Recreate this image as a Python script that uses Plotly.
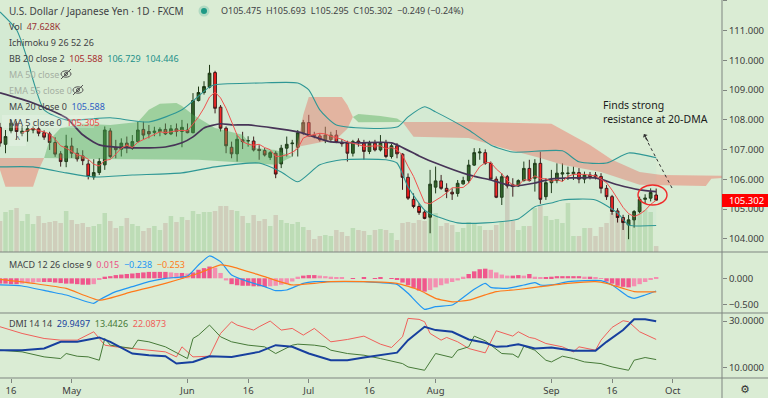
import plotly.graph_objects as go

# ---------------- data ----------------
# trading-day index: 0 = 15 Apr 2020 ... 118 = 28 Sep 2020
bar_index = list(range(-1, 119))

open_ = [107.75, 107.18, 107.64, 107.87, 107.55, 107.62, 107.66, 107.70, 107.57, 107.53,
         107.24, 106.86, 106.60, 107.12, 106.88, 106.79, 106.52, 106.08, 106.23, 106.49,
         107.63, 107.08, 107.01, 107.22, 107.05, 107.27, 107.68, 107.61, 107.58, 107.61,
         107.68, 107.53, 107.70, 107.61, 107.66, 107.57, 108.65, 108.92, 109.10, 109.59,
         108.43, 107.72, 107.08, 106.86, 107.33, 107.29, 107.29, 107.01, 106.97, 106.74,
         106.88, 106.52, 107.05, 107.20, 107.08, 107.57, 107.91, 107.49, 107.46, 107.33,
         107.34, 107.49, 107.24, 107.22, 106.88, 107.29, 107.22, 106.94, 107.22, 106.99,
         107.24, 106.77, 107.13, 106.85, 106.07, 105.33, 105.09, 104.90, 104.73, 105.74,
         105.95, 105.70, 105.57, 105.53, 105.85, 105.96, 106.48, 106.89, 106.90, 106.54,
         106.01, 105.40, 106.09, 105.82, 105.78, 105.96, 106.37, 106.04, 106.54, 105.42,
         105.89, 105.96, 106.18, 106.20, 106.19, 106.23, 106.01, 106.15, 106.15, 106.10,
         105.70, 105.42, 104.94, 104.72, 104.47, 104.64, 104.92, 105.33, 105.37, 105.475]
high = [107.90, 107.66, 108.00, 107.95, 107.80, 107.80, 107.78, 107.78, 107.65, 107.60,
        107.42, 106.95, 107.50, 107.40, 107.05, 106.98, 106.66, 106.68, 106.72, 107.78,
        107.72, 107.33, 107.38, 107.44, 107.49, 107.94, 107.94, 107.83, 107.77, 107.75,
        107.88, 107.83, 107.88, 108.00, 107.88, 108.90, 109.12, 109.30, 109.85, 109.65,
        108.50, 107.78, 107.27, 107.50, 107.60, 107.45, 107.44, 107.15, 107.05, 106.95,
        106.95, 107.16, 107.44, 107.33, 107.66, 108.00, 108.17, 107.60, 107.55, 107.77,
        107.60, 107.66, 107.35, 107.30, 107.33, 107.38, 107.33, 107.30, 107.33, 107.49,
        107.33, 107.20, 107.22, 106.88, 106.20, 105.53, 105.20, 104.98, 106.32, 106.43,
        106.15, 105.87, 105.70, 105.98, 106.09, 106.66, 107.05, 107.05, 107.01, 106.60,
        106.10, 106.21, 106.15, 106.04, 106.00, 106.60, 106.66, 106.68, 106.93, 106.04,
        106.32, 106.54, 106.54, 106.43, 106.43, 106.38, 106.26, 106.25, 106.25, 106.21,
        105.81, 105.48, 105.03, 104.81, 104.81, 104.97, 105.42, 105.50, 105.70, 105.693]
low = [107.10, 106.88, 107.55, 107.33, 107.45, 107.27, 107.55, 107.45, 107.33, 106.99,
       106.76, 106.43, 106.41, 106.72, 106.60, 106.48, 106.00, 105.99, 106.15, 106.32,
       106.71, 106.71, 106.77, 106.88, 106.99, 107.24, 107.33, 107.38, 107.45, 107.45,
       107.49, 107.49, 107.44, 107.08, 107.55, 107.55, 108.62, 108.85, 109.06, 108.22,
       107.61, 106.88, 106.71, 106.60, 107.02, 107.10, 106.94, 106.66, 106.77, 106.65,
       106.04, 106.38, 106.77, 106.77, 106.77, 107.49, 107.44, 107.38, 107.27, 107.22,
       107.25, 107.22, 107.10, 106.60, 106.77, 107.10, 106.66, 106.85, 106.94, 106.94,
       106.71, 106.70, 106.71, 105.65, 105.31, 105.03, 104.81, 104.66, 104.19, 105.53,
       105.65, 105.37, 105.31, 105.42, 105.82, 105.87, 106.45, 106.66, 106.49, 105.98,
       105.37, 105.14, 105.70, 105.42, 105.75, 105.93, 105.93, 105.59, 105.18, 105.31,
       105.54, 105.87, 105.93, 105.98, 105.98, 105.87, 105.87, 106.00, 106.00, 105.53,
       105.31, 104.81, 104.55, 104.30, 103.99, 104.38, 104.86, 105.20, 105.26, 105.295]
close = [107.22, 107.44, 107.89, 107.61, 107.62, 107.70, 107.71, 107.55, 107.42, 107.24,
         106.85, 106.60, 107.12, 106.88, 106.69, 106.63, 106.10, 106.23, 106.60, 107.66,
         106.77, 107.00, 107.22, 107.08, 107.27, 107.66, 107.49, 107.53, 107.62, 107.68,
         107.53, 107.70, 107.61, 107.75, 107.57, 108.65, 108.92, 109.12, 109.57, 108.39,
         107.72, 107.13, 106.86, 107.35, 107.27, 107.30, 106.99, 106.97, 106.82, 106.90,
         106.18, 107.05, 107.18, 107.22, 107.57, 107.91, 107.46, 107.46, 107.33, 107.49,
         107.49, 107.24, 107.20, 106.88, 107.27, 107.24, 106.94, 107.22, 106.99, 107.24,
         106.77, 107.13, 106.86, 106.07, 105.37, 105.09, 104.89, 104.69, 105.84, 105.95,
         105.70, 105.59, 105.51, 105.87, 105.96, 106.48, 106.90, 106.92, 106.54, 106.01,
         105.40, 106.09, 105.78, 105.76, 105.96, 106.37, 105.96, 106.54, 105.33, 105.89,
         105.98, 106.21, 106.22, 106.21, 106.24, 106.01, 106.15, 106.09, 106.09, 105.70,
         105.42, 104.92, 104.72, 104.55, 104.64, 104.92, 105.33, 105.37, 105.56, 105.302]
volume_k = [248, 320, 336, 352, 248, 304, 224, 288, 232, 240,
            248, 232, 328, 256, 224, 232, 200, 208, 224, 312,
            248, 192, 208, 272, 224, 208, 168, 192, 208, 176,
            232, 288, 240, 280, 256, 328, 304, 320, 320, 328,
            368, 368, 336, 328, 288, 232, 296, 248, 264, 208,
            296, 256, 232, 224, 240, 200, 176, 104, 128, 136,
            128, 176, 160, 128, 192, 176, 168, 136, 176, 184,
            176, 152, 96, 232, 240, 232, 256, 248, 360, 312,
            208, 232, 216, 160, 192, 240, 232, 208, 176, 176,
            216, 240, 512, 248, 176, 208, 208, 352, 368, 288,
            256, 264, 232, 392, 128, 128, 192, 192, 128, 200,
            232, 312, 280, 256, 240, 304, 360, 336, 320, 47.628]

ma5_index = list(range(3, 119))
ma5 = [107.56, 107.65, 107.71, 107.64, 107.60, 107.52, 107.35, 107.13, 107.05, 106.94,
       106.83, 106.78, 106.68, 106.51, 106.45, 106.64, 106.67, 106.85, 107.05, 107.15,
       107.07, 107.25, 107.34, 107.41, 107.51, 107.60, 107.57, 107.61, 107.63, 107.65,
       107.63, 107.86, 108.10, 108.40, 108.77, 108.93, 108.74, 108.39, 107.93, 107.49,
       107.27, 107.18, 107.15, 107.18, 107.07, 107.00, 106.77, 106.78, 106.83, 106.91,
       107.04, 107.39, 107.47, 107.52, 107.55, 107.53, 107.45, 107.40, 107.35, 107.26,
       107.22, 107.17, 107.11, 107.11, 107.13, 107.13, 107.03, 107.07, 107.00, 106.81,
       106.44, 106.10, 105.66, 105.22, 105.18, 105.29, 105.41, 105.55, 105.72, 105.72,
       105.73, 105.88, 106.14, 106.43, 106.56, 106.57, 106.35, 106.19, 105.96, 105.81,
       105.80, 105.99, 105.97, 106.12, 106.03, 106.02, 105.94, 105.99, 105.93, 106.10,
       106.17, 106.18, 106.17, 106.14, 106.12, 106.01, 105.89, 105.64, 105.37, 105.06,
       104.85, 104.75, 104.83, 104.96, 105.16, 105.30]

ma20_index = [-1, 5, 11, 14, 17, 23, 29, 32, 34, 36, 39, 41, 44, 53, 59, 64, 70, 75, 78, 84,
              88, 92, 96, 99, 103, 107, 111, 115, 118]
ma20 = [108.91, 108.57, 108.07, 107.50, 107.16, 107.06, 107.09, 107.23, 107.43, 107.73,
        107.87, 107.83, 107.83, 107.60, 107.26, 107.23, 107.23, 106.79, 106.55, 106.15,
        105.98, 105.78, 105.88, 106.02, 106.05, 106.05, 105.82, 105.65, 105.59]

bb_upper_index = [-1, 2, 4, 5, 7, 11, 19, 26, 32, 37, 38, 46, 53, 55, 57, 60, 71, 73, 76, 78,
                  84, 88, 92, 101, 104, 109, 113, 118]
bb_upper = [111.63, 111.03, 110.02, 109.34, 108.34, 108.00, 108.07, 107.93, 108.34, 109.11,
            109.18, 109.24, 109.24, 109.01, 108.34, 107.83, 107.76, 108.10, 108.44, 108.27,
            107.66, 107.16, 106.92, 106.96, 106.59, 106.55, 106.89, 106.73]
bb_lower_index = [-1, 5, 11, 16, 23, 32, 38, 46, 50, 53, 57, 61, 69, 71, 73, 76, 78, 82, 87, 93,
                  96, 99, 101, 107, 111, 113, 118]
bb_lower = [106.42, 106.42, 106.22, 106.08, 106.15, 106.22, 106.42, 106.55, 106.25, 105.92,
            106.49, 106.66, 106.66, 106.55, 105.75, 104.97, 104.77, 104.54, 104.54, 104.67,
            105.08, 105.21, 105.31, 105.31, 104.87, 104.47, 104.45]

# Ichimoku cloud pieces: (upper edge, lower edge)
red1_up_i, red1_up = [-1, 7], [106.72, 106.72]
red1_lo_i, red1_lo = [-1, 0, 5, 6, 7], [106.32, 105.75, 105.75, 106.32, 106.72]
green1_up_i = [7, 8, 10, 14, 19, 24, 26, 28, 31, 32, 34, 38, 43, 45, 49, 52]
green1_up = [106.72, 107.33, 107.73, 107.87, 107.83, 107.93, 108.34, 108.54, 108.57, 108.47,
             108.17, 107.73, 107.50, 107.06, 106.99, 106.76]
green1_lo_i, green1_lo = [7, 17, 35, 44, 49, 52], [106.72, 106.69, 106.66, 106.55, 106.49, 106.76]
red2_up_i, red2_up = [52, 53, 54, 55, 61, 62, 63], [106.76, 107.23, 108.17, 108.77, 108.77, 108.50, 108.10]
red2_lo_i, red2_lo = [52, 53, 56, 60, 62, 63], [106.76, 107.10, 107.20, 107.35, 107.70, 108.10]
green2_up_i, green2_up = [63, 64, 68, 71, 72], [108.10, 108.20, 108.13, 108.05, 107.93]
green2_lo_i, green2_lo = [63, 64, 72], [108.10, 107.92, 107.93]
red3_up_i = [72, 84, 99, 101, 106, 110, 115, 119, 130]
red3_up = [107.93, 107.93, 107.87, 107.66, 107.16, 106.66, 106.25, 106.15, 106.12]
red3_lo_i = [72, 74, 84, 90, 97, 101, 108, 115, 127, 128, 130]
red3_lo = [107.93, 107.43, 107.39, 107.06, 106.72, 106.49, 106.25, 105.82, 105.78, 106.02, 106.05]

# MACD 12 26 9
macd_hist = [-0.10, -0.10, -0.11, -0.11, -0.10, -0.09, -0.08, -0.07, -0.07, -0.07,
             -0.08, -0.09, -0.10, -0.10, -0.11, -0.12, -0.12, -0.11, -0.02, 0.03,
             0.04, 0.06, 0.07, 0.08, 0.09, 0.10, 0.11, 0.12, 0.12, 0.12,
             0.12, 0.11, 0.10, 0.10, 0.09, 0.11, 0.16, 0.19, 0.22, 0.20,
             0.10, -0.04, -0.11, -0.13, -0.14, -0.14, -0.15, -0.15, -0.16, -0.15,
             -0.14, -0.12, -0.10, -0.06, 0.03, 0.05, 0.06, 0.06, 0.05, 0.04,
             0.03, 0.02, 0.01, 0.00, -0.01, 0.00, 0.01, 0.00, -0.01, 0.01,
             0.00, -0.01, -0.03, -0.08, -0.13, -0.18, -0.23, -0.25, -0.22, -0.17,
             -0.13, -0.10, -0.07, -0.04, 0.03, 0.08, 0.13, 0.17, 0.18, 0.16,
             0.11, 0.07, 0.05, 0.05, 0.06, 0.05, 0.08, 0.03, 0.02, 0.02,
             0.03, 0.04, 0.04, 0.04, 0.04, 0.04, 0.03, 0.03, 0.02, -0.01,
             -0.06, -0.10, -0.14, -0.16, -0.17, -0.15, -0.11, -0.07, -0.03, 0.015]
macd_index = [-1, 3, 8, 11, 16, 17, 20, 23, 26, 29, 33, 35, 37, 39, 41, 44, 47, 49, 51, 54,
              56, 59, 62, 65, 68, 71, 73, 76, 78, 81, 82, 85, 87, 88, 91, 94, 96, 97, 99, 102,
              105, 108, 110, 113, 114, 116, 118]
macd_line = [-0.125, -0.144, -0.25, -0.313, -0.469, -0.406, -0.25, -0.156, -0.063, 0.0,
             0.043, 0.249, 0.418, 0.312, 0.062, -0.063, -0.156, -0.231, -0.219, -0.094,
             -0.063, -0.063, -0.063, -0.063, -0.082, -0.113, -0.281, -0.581, -0.531, -0.50,
             -0.438, -0.206, -0.094, -0.169, -0.187, -0.125, -0.082, -0.125, -0.125, -0.063,
             -0.044, -0.044, -0.125, -0.344, -0.375, -0.313, -0.238]
signal_index = [-1, 5, 11, 17, 23, 29, 35, 39, 41, 47, 52, 56, 59, 65, 71, 75, 78, 81, 84, 87,
                89, 93, 97, 102, 107, 109, 112, 114, 118]
signal_line = [-0.02, -0.094, -0.19, -0.41, -0.25, -0.094, 0.094, 0.25, 0.22, 0.03,
               -0.125, -0.094, -0.063, -0.063, -0.094, -0.22, -0.375, -0.44, -0.41, -0.31,
               -0.25, -0.21, -0.156, -0.094, -0.063, -0.094, -0.19, -0.25, -0.253]

# DMI 14 14
adx_index = [-1, 3, 7, 10, 13, 17, 19, 23, 26, 29, 31, 34, 37, 41, 46, 49, 52, 55, 59, 62,
             65, 68, 71, 73, 76, 78, 81, 84, 87, 89, 91, 93, 96, 99, 103, 107, 109, 112, 114, 116, 118]
adx = [17.47, 17.47, 18.19, 21.07, 21.07, 22.95, 21.07, 16.03, 15.31, 14.88,
       11.71, 12.43, 14.88, 14.59, 16.75, 19.63, 18.91, 16.03, 13.15, 13.15,
       14.31, 15.31, 16.40, 21.79, 27.55, 26.11, 25.39, 22.08, 20.64, 18.91,
       19.20, 20.06, 18.19, 18.62, 17.19, 17.19, 21.07, 26.11, 30.72, 30.72, 29.95]
minus_di_index = [-1, 3, 7, 10, 13, 16, 17, 18, 20, 23, 26, 29, 31, 32, 34, 37, 39, 41, 42, 45,
                  46, 48, 50, 52, 54, 56, 59, 62, 65, 68, 70, 72, 73, 75, 76, 77, 79, 80, 82, 84,
                  87, 89, 92, 93, 95, 96, 98, 101, 103, 104, 107, 108, 110, 112, 113, 115, 118]
minus_di = [27.55, 24.67, 22.51, 21.79, 21.79, 25.39, 22.51, 19.63, 18.91, 18.19,
            17.47, 16.75, 14.59, 18.91, 14.59, 14.88, 24.67, 29.71, 28.27, 26.11,
            27.55, 30.00, 26.11, 26.83, 23.95, 26.83, 21.07, 22.08, 23.52, 20.06,
            18.62, 23.23, 31.15, 30.72, 29.71, 24.67, 21.79, 22.95, 21.07, 18.19,
            16.32, 25.82, 23.52, 25.39, 22.95, 22.51, 20.35, 18.91, 16.75, 18.91,
            17.47, 21.79, 27.26, 30.14, 29.71, 25.39, 22.09]
plus_di_index = [-1, 3, 7, 10, 11, 13, 15, 17, 18, 19, 23, 24, 26, 29, 33, 34, 35, 37, 39, 41,
                 44, 47, 49, 52, 53, 56, 58, 59, 62, 65, 68, 71, 72, 73, 75, 76, 78, 81, 82, 84,
                 85, 87, 90, 92, 93, 94, 96, 98, 99, 101, 103, 105, 108, 110, 113, 114, 116, 118]
plus_di = [17.47, 16.75, 14.59, 13.87, 16.03, 14.88, 14.59, 13.15, 22.51, 19.63,
           18.19, 21.79, 21.07, 18.91, 13.87, 22.51, 23.95, 28.27, 23.23, 21.07,
           19.63, 18.91, 16.03, 19.63, 20.06, 19.63, 18.91, 17.47, 16.03, 15.31,
           13.87, 12.43, 11.71, 10.27, 9.12, 8.83, 16.03, 14.31, 17.47, 18.91,
           23.52, 21.50, 16.03, 15.75, 14.31, 19.20, 17.47, 13.15, 12.43, 14.88,
           13.87, 12.43, 11.71, 10.27, 8.83, 13.15, 14.31, 13.44]

time_tick_index = [1, 12, 33, 44, 55, 66, 78, 99, 110, 121]
time_tick_text = ["16", "May", "Jun", "16", "Jul", "16", "Aug", "Sep", "16", "Oct"]
price_ticks = [104, 105, 106, 107, 108, 109, 110, 111, 112]
macd_ticks = [0.0, -0.5]
dmi_ticks = [10, 30]

# ---------------- styling / layout helpers ----------------
W, H = 768, 398
MR, MB = 46, 20
PW, PH = W - MR, H - MB


def px(x):
    return x / PW


def py(y):
    return 1 - y / PH


BG = "#daecd4"
AX = "#7f8580"
FONT = "Noto Sans, DejaVu Sans, sans-serif"
TXT = "#3f4245"
TF = dict(family=FONT, size=9.5, color="#3c3c3c")

fig = go.Figure()

# volume (base axis y)
vol_colors = ["#bddcb6" if c >= o else "#cfcebb" for o, c in zip(open_, close)]
fig.add_trace(go.Bar(x=bar_index, y=volume_k, marker=dict(color=vol_colors, line=dict(width=0)),
                     width=0.82, xaxis="x", yaxis="y", hoverinfo="skip"))


# ichimoku cloud
def cloud(ui, uv, li, lv, color):
    fig.add_trace(go.Scatter(x=ui + li[::-1], y=uv + lv[::-1], fill="toself", fillcolor=color,
                             line=dict(width=0), mode="lines", xaxis="x", yaxis="y4", hoverinfo="skip"))


RED_C = "rgba(236,120,105,0.48)"
GRN_C = "rgba(76,170,80,0.42)"
cloud(red1_up_i, red1_up, red1_lo_i, red1_lo, RED_C)
cloud(green1_up_i, green1_up, green1_lo_i, green1_lo, GRN_C)
cloud(red2_up_i, red2_up, red2_lo_i, red2_lo, RED_C)
cloud(green2_up_i, green2_up, green2_lo_i, green2_lo, GRN_C)
cloud(red3_up_i, red3_up, red3_lo_i, red3_lo, RED_C)

# bollinger band fill + edges
fig.add_trace(go.Scatter(x=bb_upper_index + bb_lower_index[::-1], y=bb_upper + bb_lower[::-1],
                         fill="toself", fillcolor="rgba(120,200,200,0.06)", line=dict(width=0),
                         mode="lines", xaxis="x", yaxis="y4", hoverinfo="skip"))
for xi, yv in ((bb_upper_index, bb_upper), (bb_lower_index, bb_lower)):
    fig.add_trace(go.Scatter(x=xi, y=yv, mode="lines",
                             line=dict(color="#2e9795", width=1.1, shape="spline", smoothing=0.6),
                             xaxis="x", yaxis="y4", hoverinfo="skip"))
# MA 20 / BB basis
fig.add_trace(go.Scatter(x=ma20_index, y=ma20, mode="lines",
                         line=dict(color="#473457", width=1.7, shape="spline", smoothing=0.6),
                         xaxis="x", yaxis="y4", hoverinfo="skip"))
# MA 5
fig.add_trace(go.Scatter(x=ma5_index, y=ma5, mode="lines", line=dict(color="#f0524f", width=1),
                         xaxis="x", yaxis="y4", hoverinfo="skip"))
# candles
fig.add_trace(go.Candlestick(x=bar_index, open=open_, high=high, low=low, close=close,
                             increasing=dict(line=dict(color="#1c3512", width=1), fillcolor="#2e5e20"),
                             decreasing=dict(line=dict(color="#3a1515", width=1), fillcolor="#ff1c1c"),
                             whiskerwidth=0, xaxis="x", yaxis="y4", hoverinfo="skip"))

# MACD pane
hist_colors = []
prev = 0
for v in macd_hist:
    hist_colors.append("#f0568c" if abs(v) >= abs(prev) else "#f48fb1")
    prev = v
fig.add_trace(go.Bar(x=bar_index, y=macd_hist, marker=dict(color=hist_colors, line=dict(width=0)),
                     width=0.8, xaxis="x", yaxis="y2", hoverinfo="skip"))
fig.add_trace(go.Scatter(x=macd_index, y=macd_line, mode="lines",
                         line=dict(color="#2196f3", width=1.2, shape="spline", smoothing=0.5),
                         xaxis="x", yaxis="y2", hoverinfo="skip"))
fig.add_trace(go.Scatter(x=signal_index, y=signal_line, mode="lines",
                         line=dict(color="#ff7a1a", width=1.2, shape="spline", smoothing=0.5),
                         xaxis="x", yaxis="y2", hoverinfo="skip"))

# DMI pane
fig.add_trace(go.Scatter(x=minus_di_index, y=minus_di, mode="lines", line=dict(color="#f0605a", width=1),
                         xaxis="x", yaxis="y3", hoverinfo="skip"))
fig.add_trace(go.Scatter(x=plus_di_index, y=plus_di, mode="lines", line=dict(color="#467a38", width=1),
                         xaxis="x", yaxis="y3", hoverinfo="skip"))
fig.add_trace(go.Scatter(x=adx_index, y=adx, mode="lines", line=dict(color="#173f9e", width=2),
                         xaxis="x", yaxis="y3", hoverinfo="skip"))

d_main0 = py(252)
d_macd0 = py(313)
yax_common = dict(side="right", anchor="x", ticks="outside", ticklen=4, tickcolor=AX,
                  showgrid=False, zeroline=False, showline=False, tickfont=TF, fixedrange=True)

fig.update_layout(
    width=W, height=H, margin=dict(l=0, r=MR, t=0, b=MB, pad=0),
    paper_bgcolor=BG, plot_bgcolor=BG, showlegend=False,
    xaxis=dict(range=[-1.0, 129.94], domain=[0, 1], anchor="y3", tickvals=time_tick_index,
               ticktext=time_tick_text, ticks="outside", ticklen=4, tickcolor=AX, showgrid=False,
               zeroline=False, showline=False, tickfont=TF, rangeslider=dict(visible=False)),
    yaxis=dict(domain=[d_main0, 1], range=[0, 2016], visible=False, anchor="x", fixedrange=True),
    yaxis4=dict(overlaying="y", range=[103.56, 112.03], tickvals=price_ticks,
                ticktext=[f"{v:.3f}" for v in price_ticks], **yax_common),
    yaxis2=dict(domain=[d_macd0, d_main0], range=[-0.65, 0.4925], tickvals=macd_ticks,
                ticktext=[("−" if v < 0 else "") + f"{abs(v):.3f}" for v in macd_ticks], **yax_common),
    yaxis3=dict(domain=[0, d_macd0], range=[5.51, 33.46], tickvals=dmi_ticks,
                ticktext=[f"{v:.4f}" for v in dmi_ticks], **yax_common),
)

shapes = []
xr = W / PW
for yy in (252, 313, 378):
    shapes.append(dict(type="line", xref="paper", yref="paper", x0=0, x1=xr, y0=py(yy), y1=py(yy),
                       line=dict(color=AX, width=1)))
shapes.append(dict(type="line", xref="paper", yref="paper", x0=1, x1=1, y0=py(H), y1=1,
                   line=dict(color=AX, width=1)))
# last price tag
shapes.append(dict(type="rect", xref="paper", yref="paper", x0=1.0, x1=xr, y0=py(207), y1=py(194),
                   fillcolor="#ff0000", line=dict(width=0)))
# legend hover boxes
shapes.append(dict(type="rect", xref="paper", yref="paper", x0=px(2), x1=px(94), y0=py(128), y1=py(115),
                   fillcolor="rgba(255,255,255,0.22)", line=dict(width=0)))
shapes.append(dict(type="rect", xref="paper", yref="paper", x0=px(9), x1=px(26), y0=py(146), y1=py(132),
                   fillcolor="rgba(255,255,255,0.22)", line=dict(width=0)))
# teal status dot
shapes.append(dict(type="circle", xref="paper", yref="paper", x0=px(198.5), x1=px(209.5), y0=py(16.5), y1=py(5.5),
                   fillcolor="rgba(30,153,133,0.22)", line=dict(width=0)))
shapes.append(dict(type="circle", xref="paper", yref="paper", x0=px(201), x1=px(207), y0=py(14), y1=py(8),
                   fillcolor="#1e9985", line=dict(width=0)))
# hidden-eye icons
for cx, cy in ((66, 74), (78, 90)):
    shapes.append(dict(type="circle", xref="paper", yref="paper", x0=px(cx - 5), x1=px(cx + 5),
                       y0=py(cy + 3.2), y1=py(cy - 3.2), line=dict(color="#555", width=1)))
    shapes.append(dict(type="circle", xref="paper", yref="paper", x0=px(cx - 1.5), x1=px(cx + 1.5),
                       y0=py(cy + 1.5), y1=py(cy - 1.5), line=dict(color="#555", width=1)))
    shapes.append(dict(type="line", xref="paper", yref="paper", x0=px(cx - 5), x1=px(cx + 5),
                       y0=py(cy + 5), y1=py(cy - 5), line=dict(color="#555", width=1)))
# red ellipse and dotted arrow annotation
shapes.append(dict(type="circle", xref="paper", yref="paper", x0=px(638), x1=px(667), y0=py(205), y1=py(185),
                   line=dict(color="#f02a2a", width=1.4)))
shapes.append(dict(type="line", xref="paper", yref="paper", x0=px(672), x1=px(644), y0=py(188), y1=py(135),
                   line=dict(color="#333", width=1, dash="dot")))
fig.update_layout(shapes=shapes)


def span(t, c):
    return f"<span style='color:{c}'>{t}</span>"


ann = []


def label(x, y, text, size=9, color=TXT):
    ann.append(dict(xref="paper", yref="paper", x=px(x), y=py(y), text=text, showarrow=False,
                    xanchor="left", yanchor="middle", font=dict(family=FONT, size=size, color=color)))


label(7, 11, "U.S. Dollar / Japanese Yen · 1D · FXCM", size=10)
label(219, 11, "O105.475  H105.693  L105.295  C105.302  −0.249 (−0.24%)", size=9)
label(7, 26, "Vol  " + span("47.628K", "#9b3434"))
label(7, 42, "Ichimoku 9 26 52 26")
label(7, 58, "BB 20 close 2  " + span("105.588", "#a83030") + "  " + span("106.729", "#23908a")
      + "  " + span("104.446", "#23908a"))
label(7, 74, "MA 50 close", color="#a5afa2")
label(7, 90, "EMA 55 close 0", color="#a5afa2")
label(7, 106, "MA 20 close 0  " + span("105.588", "#2f5fc4"))
label(7, 122, "MA 5 close 0  " + span("105.305", "#ef4a46"))
label(13, 138, "^", size=9, color="#555")
label(7, 264, "MACD 12 26 close 9  " + span("0.015", "#ec4f86") + "  " + span("−0.238", "#2196f3")
      + "  " + span("−0.253", "#ff7a1a"))
label(7, 323, "DMI 14 14  " + span("29.9497", "#173f9e") + "  " + span("13.4426", "#467a38")
      + "  " + span("22.0873", "#f0605a"))
label(727, 200.5, "105.302", size=9.5, color="#ffffff")
ann.append(dict(xref="paper", yref="paper", x=px(601), y=py(96), text="Finds strong<br>resistance at 20-DMA",
                showarrow=False, xanchor="left", yanchor="top", align="left",
                font=dict(family=FONT, size=10.5, color="#1b1b1b")))
ann.append(dict(xref="paper", yref="paper", x=px(644), y=py(134), ax=5, ay=9, text="", showarrow=True,
                arrowhead=1, arrowsize=0.9, arrowwidth=1, arrowcolor="#333", standoff=0))
ann.append(dict(xref="paper", yref="paper", x=px(745), y=py(389), text="⚙", showarrow=False,
                xanchor="center", yanchor="middle", font=dict(family="DejaVu Sans", size=11, color="#333")))
fig.update_layout(annotations=ann)

fig.write_html("out.html", config={"displayModeBar": False},
               post_script="document.body.style.margin='0';document.body.style.overflow='hidden';")
